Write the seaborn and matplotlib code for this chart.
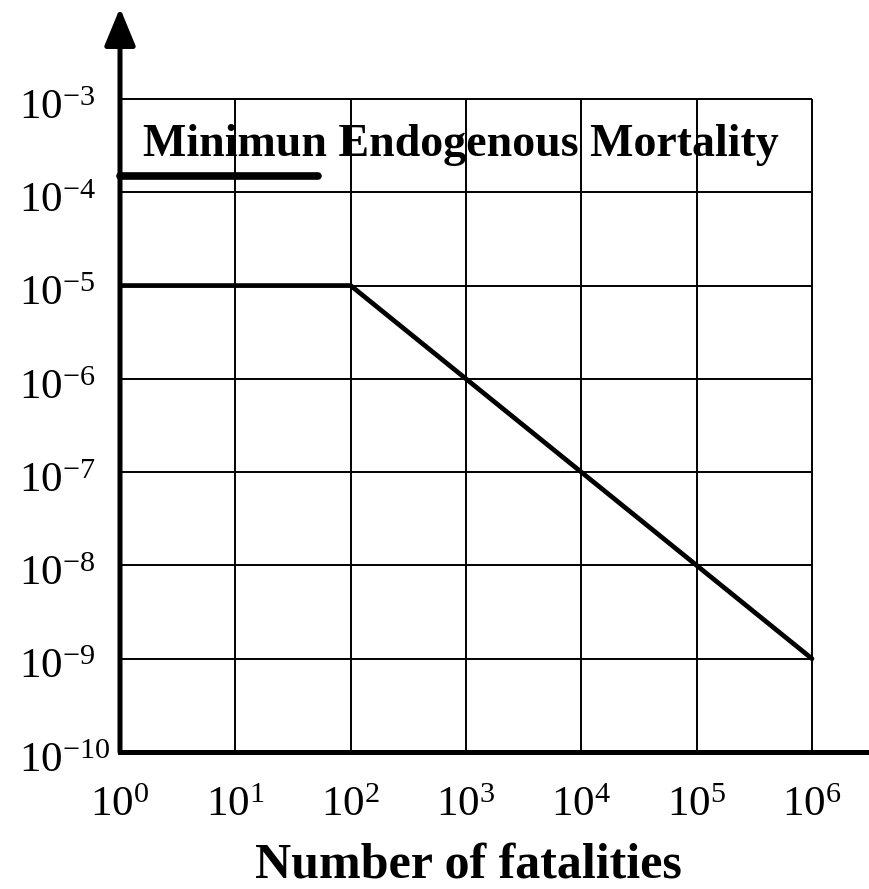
import numpy as np
import pandas as pd
import matplotlib
matplotlib.use("Agg")
import matplotlib.pyplot as plt
import matplotlib.transforms as mtransforms
import seaborn as sns

# ---- data ----
x_decades = [0, 1, 2, 3, 4, 5, 6]
y_decades = [-10, -9, -8, -7, -6, -5, -4, -3]
criterion_x = [1, 100, 1e6]
criterion_y = [1e-5, 1e-5, 1e-9]
min_mort_x = [1, 52]
min_mort_y = [1.5e-4, 1.5e-4]
min_mort_label = "Minimun Endogenous Mortality"
x_label = "Number of fatalities"

sns.set_theme(style="white")
plt.rcParams['font.family'] = ['Liberation Serif', 'DejaVu Serif']
plt.rcParams['mathtext.fontset'] = 'custom'
plt.rcParams['mathtext.rm'] = 'Liberation Serif'

W, H = 869, 889
fig = plt.figure(figsize=(W / 100, H / 100), dpi=100)
# axes geometry (pixels): x=1 at 120, x spine end at 866; y=1e-10 at 752, axis top at 8
px_dec_x = 692 / 6.0
px_dec_y = 653 / 7.0
left_px, right_px, bottom_px, top_px = 120, 866, 752, 8
ax = fig.add_axes([left_px / W, 1 - bottom_px / H, (right_px - left_px) / W, (bottom_px - top_px) / H])
ax.set_xscale('log')
ax.set_yscale('log')
ax.set_xlim(1, 10 ** ((right_px - left_px) / px_dec_x))
ax.set_ylim(1e-10, 10 ** (-3 + (99 - top_px) / px_dec_y))

xs = [10.0 ** d for d in x_decades]
ys = [10.0 ** d for d in y_decades]

# grid
ax.hlines(ys[1:], xs[0], xs[-1], colors='black', linewidth=1.4, zorder=1)
ax.vlines(xs[1:], ys[0], ys[-1], colors='black', linewidth=1.4, zorder=1)

# data lines
df_c = pd.DataFrame({'x': criterion_x, 'y': criterion_y})
sns.lineplot(data=df_c, x='x', y='y', ax=ax, color='black', linewidth=3.4,
             sort=False, estimator=None, zorder=3)
df_m = pd.DataFrame({'x': min_mort_x, 'y': min_mort_y})
sns.lineplot(data=df_m, x='x', y='y', ax=ax, color='black', linewidth=5.5,
             sort=False, estimator=None, zorder=4)
ax.lines[-1].set_solid_capstyle('round')
ax.lines[-1].set_clip_on(False)

ax.text(1.58, 2.45e-4, min_mort_label, fontsize=33, fontweight='bold',
        ha='left', va='baseline', color='black', zorder=5)

# spines
for s in ['top', 'right', 'left']:
    ax.spines[s].set_visible(False)
ax.spines['bottom'].set_linewidth(3.6)
ax.spines['bottom'].set_color('black')
ax.annotate('', xy=(0, 1), xycoords='axes fraction', xytext=(0, 0), textcoords='axes fraction',
            arrowprops=dict(arrowstyle='-|>,head_length=2.3,head_width=0.95', lw=3.6,
                            color='black', shrinkA=0, shrinkB=0, mutation_scale=10),
            annotation_clip=False)

# ticks
ax.minorticks_off()
ax.set_xticks(xs)
ax.set_xticklabels([r'$\mathregular{10^{%d}}$' % d for d in x_decades])
ax.set_yticks(ys)
ax.set_yticklabels([r'$\mathregular{10^{%d}}$' % d for d in y_decades])
ax.tick_params(axis='both', length=0, labelsize=31, colors='black')
ax.tick_params(axis='x', pad=25)
ax.tick_params(axis='y', pad=73)
shift = mtransforms.ScaledTranslation(0, -5 / 100, fig.dpi_scale_trans)
for t in ax.get_yticklabels():
    t.set_ha('left')
    t.set_transform(t.get_transform() + shift)

ax.set_xlabel('')
ax.set_ylabel('')
fig.text(468 / W, 1 - 877 / H, x_label, fontsize=36, fontweight='bold',
         ha='center', va='baseline', color='black')

fig.savefig('out.png', dpi=100)
